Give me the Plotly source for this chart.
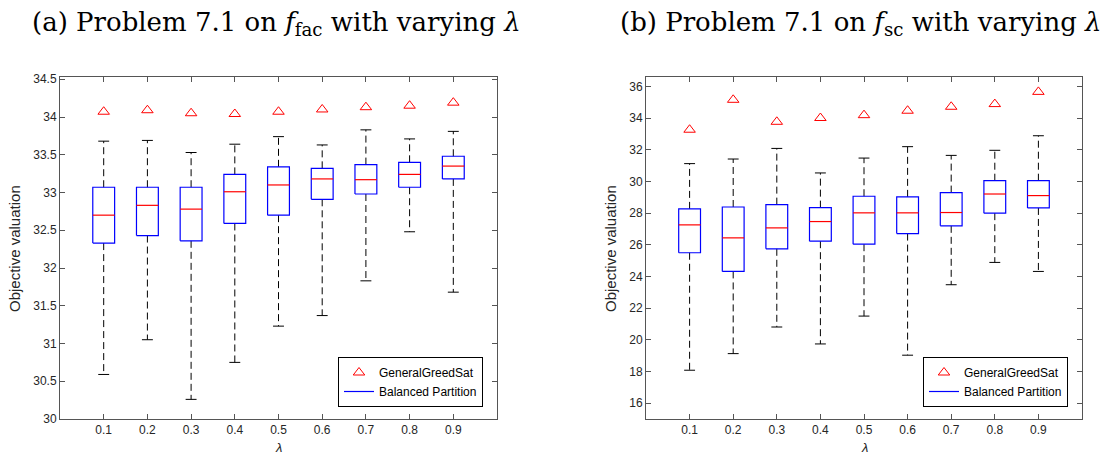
import plotly.graph_objects as go

lam = [0.1, 0.2, 0.3, 0.4, 0.5, 0.6, 0.7, 0.8, 0.9]
tick_labels = ["0.1", "0.2", "0.3", "0.4", "0.5", "0.6", "0.7", "0.8", "0.9"]

# Panel (a): f_fac
fac_greedy = [34.07, 34.09, 34.05, 34.04, 34.07, 34.10, 34.13, 34.15, 34.19]
fac_lower = [30.59, 31.05, 30.26, 30.75, 31.23, 31.37, 31.83, 32.48, 31.68]
fac_q1 = [32.33, 32.43, 32.36, 32.59, 32.70, 32.91, 32.98, 33.07, 33.18]
fac_med = [32.70, 32.83, 32.78, 33.01, 33.10, 33.18, 33.17, 33.24, 33.35]
fac_q3 = [33.07, 33.07, 33.07, 33.24, 33.34, 33.32, 33.37, 33.40, 33.48]
fac_upper = [33.68, 33.69, 33.53, 33.64, 33.74, 33.63, 33.83, 33.71, 33.81]

# Panel (b): f_sc
sc_greedy = [33.27, 35.16, 33.77, 34.01, 34.19, 34.47, 34.72, 34.89, 35.66]
sc_lower = [18.08, 19.13, 20.81, 19.74, 21.50, 19.03, 23.48, 24.89, 24.32]
sc_q1 = [25.50, 24.32, 25.75, 26.23, 26.04, 26.71, 27.20, 28.00, 28.33]
sc_med = [27.26, 26.44, 27.07, 27.47, 28.02, 28.02, 28.04, 29.21, 29.11]
sc_q3 = [28.27, 28.39, 28.54, 28.35, 29.07, 29.03, 29.30, 30.05, 30.05]
sc_upper = [31.13, 31.42, 32.09, 30.54, 31.48, 32.20, 31.65, 31.97, 32.89]

BOX_HALF = 0.025
CAP_HALF = 0.0125

W, H = 1102, 454

fig = go.Figure()


def add_panel(xa, ya, legend, greedy, lower, q1, med, q3, upper):
    wx, wy, cx, cy, bx, by, mx, my = [], [], [], [], [], [], [], []
    for i, x in enumerate(lam):
        wx += [x, x, None, x, x, None]
        wy += [q3[i], upper[i], None, q1[i], lower[i], None]
        cx += [x - CAP_HALF, x + CAP_HALF, None, x - CAP_HALF, x + CAP_HALF, None]
        cy += [upper[i], upper[i], None, lower[i], lower[i], None]
        bx += [x - BOX_HALF, x + BOX_HALF, x + BOX_HALF, x - BOX_HALF, x - BOX_HALF, None]
        by += [q1[i], q1[i], q3[i], q3[i], q1[i], None]
        mx += [x - BOX_HALF, x + BOX_HALF, None]
        my += [med[i], med[i], None]
    common = dict(xaxis=xa, yaxis=ya, mode="lines", hoverinfo="skip")
    fig.add_trace(go.Scatter(x=wx, y=wy, line=dict(color="black", width=1, dash="7px,4px"),
                             showlegend=False, **common))
    fig.add_trace(go.Scatter(x=cx, y=cy, line=dict(color="black", width=1),
                             showlegend=False, **common))
    fig.add_trace(go.Scatter(x=lam, y=greedy, xaxis=xa, yaxis=ya, mode="markers",
                             marker=dict(symbol="triangle-up-open", size=10, color="red",
                                         line=dict(width=1, color="red")),
                             name="GeneralGreedSat", legend=legend, showlegend=True))
    fig.add_trace(go.Scatter(x=bx, y=by, line=dict(color="#0000ff", width=1.2),
                             name="Balanced Partition", legend=legend, showlegend=True, **common))
    fig.add_trace(go.Scatter(x=mx, y=my, line=dict(color="red", width=1.2),
                             showlegend=False, **common))


add_panel("x", "y", "legend", fac_greedy, fac_lower, fac_q1, fac_med, fac_q3, fac_upper)
add_panel("x2", "y2", "legend2", sc_greedy, sc_lower, sc_q1, sc_med, sc_q3, sc_upper)

axis_common = dict(showgrid=False, zeroline=False, showline=True, linecolor="#555555",
                   linewidth=1, mirror="allticks", ticks="inside", ticklen=5, automargin=False,
                   tickcolor="#555555", tickfont=dict(family="Liberation Sans", size=12, color="#262626"))

ydom = [(H - 419) / H, (H - 77) / H]
sans = dict(family="Liberation Sans", size=15, color="#262626")
serif = dict(family="DejaVu Serif", size=26, color="black")
leg_common = dict(bordercolor="black", borderwidth=1, bgcolor="white",
                  font=dict(family="Liberation Sans", size=12, color="black"),
                  tracegroupgap=0, itemwidth=30, yanchor="bottom", xanchor="right")


def ann(text, x, y, font, xanchor="center", angle=0):
    return dict(text=text, x=x / W, y=1 - y / H, xref="paper", yref="paper", xanchor=xanchor,
                yanchor="middle", showarrow=False, font=font, textangle=angle)


fig.update_layout(
    width=W, height=H,
    margin=dict(l=0, r=0, t=0, b=0, autoexpand=False),
    paper_bgcolor="white", plot_bgcolor="white",
    xaxis=dict(domain=[60 / W, 497 / W], range=[0, 1], tickvals=lam, ticktext=tick_labels,
               anchor="y", **axis_common),
    yaxis=dict(domain=ydom, range=[30, 34.53], dtick=0.5, anchor="x", **axis_common),
    xaxis2=dict(domain=[646 / W, 1082 / W], range=[0, 1], tickvals=lam, ticktext=tick_labels,
                anchor="y2", **axis_common),
    yaxis2=dict(domain=ydom, range=[15, 36.6], tickvals=list(range(16, 37, 2)),
                anchor="x2", **axis_common),
    legend=dict(x=483 / W, y=(H - 407) / H, **leg_common),
    legend2=dict(x=1068 / W, y=(H - 407) / H, **leg_common),
    annotations=[
        ann("(a) Problem 7.1 on <i>f</i><sub>fac</sub> with varying <i>λ</i>", 30, 24, serif, "left"),
        ann("(b) Problem 7.1 on <i>f</i><sub>sc</sub> with varying <i>λ</i>", 618, 24, serif, "left"),
        ann("Objective valuation", 14, 249, sans, angle=-90),
        ann("Objective valuation", 610, 249, sans, angle=-90),
        ann("<i>λ</i>", 278, 447, dict(sans, size=13)),
        ann("<i>λ</i>", 864, 447, dict(sans, size=13)),
    ],
)

fig.write_html("out.html", config={"displayModeBar": False},
               post_script="document.body.style.margin='0';document.body.style.overflow='hidden';")
